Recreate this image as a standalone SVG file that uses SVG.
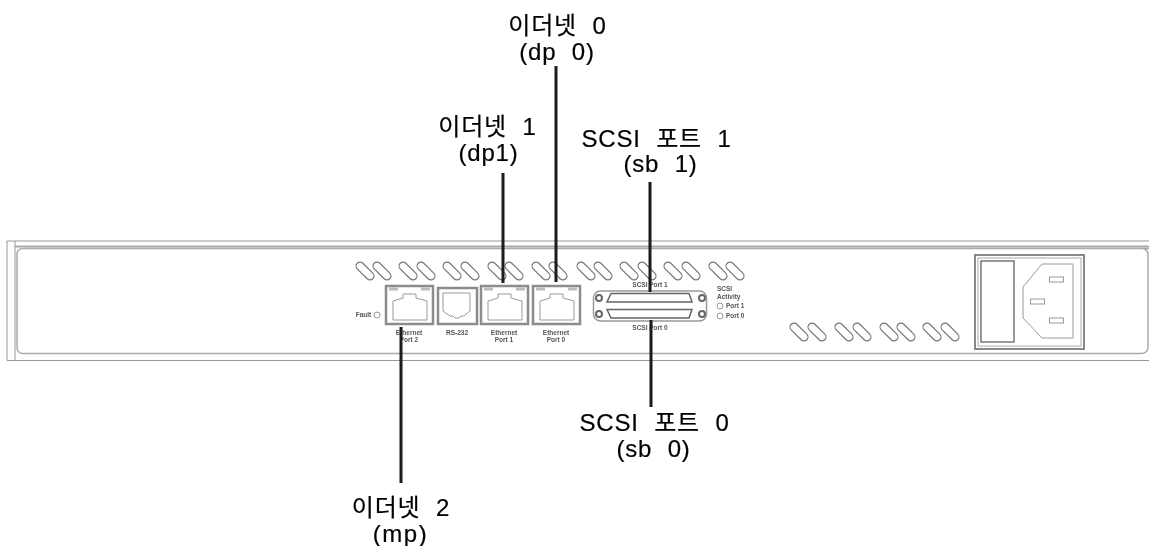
<svg xmlns="http://www.w3.org/2000/svg" width="1149" height="546" viewBox="0 0 1149 546">
<style>
.l{font-family:"Liberation Sans","Noto Sans CJK KR",sans-serif;font-size:24px;fill:#000;text-anchor:middle;word-spacing:8px;letter-spacing:.8px;stroke:#000;stroke-width:.2px}
.s{font-family:"Liberation Sans",sans-serif;font-size:6.500px;font-weight:bold;fill:#555;text-anchor:middle}
.sl{text-anchor:start}
.f{fill:none;stroke:#999;stroke-width:1}
.h{fill:none;stroke:#aaa;stroke-width:2}
.p{fill:none;stroke:#8c8c8c;stroke-width:2.500}
.c{stroke:#1c1c1c;stroke-width:3;fill:none}
.sc{fill:none;stroke:#777;stroke-width:1.200}
</style>
<defs>
<filter id="b" x="-5%" y="-5%" width="110%" height="110%"><feGaussianBlur stdDeviation="0.45"/></filter>
<filter id="t" x="-5%" y="-5%" width="110%" height="110%"><feGaussianBlur stdDeviation="0.3"/></filter>
<rect id="slot" class="sc" x="-11" y="-4" width="22" height="8" rx="4" transform="rotate(45)"/>
<g id="rj">
<rect class="p" x="0" y="0" width="47" height="38"/>
<path d="M3 1.500H12V4.500H3ZM35 1.500H44V4.500H35Z" fill="#bbb"/>
<path class="f" d="M7 34V15L17 12V8H30V12L41 15V34Z"/>
</g>
</defs>
<rect width="1149" height="546" fill="#fff"/>
<g id="chassis" filter="url(#b)">
<path class="f" d="M1149 241H7V360.500H1149" stroke="#aaa"/>
<line class="f" x1="15" y1="241" x2="15" y2="360"/>
<path class="h" d="M15 246.500H1149"/>
<path d="M1149 248.500H23Q17 248.500 17 254.500V347Q17 353.500 23 353.500H1141Q1148 353.500 1148 347V255Q1148 248.500 1141 248.500" fill="none" stroke="#aaa" stroke-width="1.500"/>
</g>
<g id="vents" filter="url(#b)">
<use href="#slot" x="365" y="271"/><use href="#slot" x="382" y="271"/><use href="#slot" x="408" y="271"/><use href="#slot" x="426" y="271"/><use href="#slot" x="452" y="271"/><use href="#slot" x="470" y="271"/><use href="#slot" x="497" y="271"/><use href="#slot" x="514" y="271"/><use href="#slot" x="541" y="271"/><use href="#slot" x="558" y="271"/><use href="#slot" x="586" y="271"/><use href="#slot" x="603" y="271"/><use href="#slot" x="629" y="271"/><use href="#slot" x="647" y="271"/><use href="#slot" x="673" y="271"/><use href="#slot" x="691" y="271"/><use href="#slot" x="718" y="271"/><use href="#slot" x="735" y="271"/>
<use href="#slot" x="799" y="332"/><use href="#slot" x="817" y="332"/><use href="#slot" x="844" y="332"/><use href="#slot" x="862" y="332"/><use href="#slot" x="889" y="332"/><use href="#slot" x="906" y="332"/><use href="#slot" x="932" y="332"/><use href="#slot" x="950" y="332"/>
</g>
<g id="fault" filter="url(#b)"><text class="s" x="363.500" y="317">Fault</text><circle class="f" cx="377" cy="315" r="3"/></g>
<g id="ethernet-port-2" filter="url(#b)"><use href="#rj" x="386" y="286"/><text class="s" x="409" y="334.500">Ethernet</text><text class="s" x="409" y="342">Port 2</text></g>
<g id="rs-232" filter="url(#b)">
<rect class="p" x="438" y="288" width="39" height="36"/>
<path class="f" d="M443 293H470V311L464 316H461L459 318H455L453 316H450L443 311Z"/>
<text class="s" x="457" y="334.500">RS-232</text></g>
<g id="ethernet-port-1" filter="url(#b)"><use href="#rj" x="481" y="286"/><text class="s" x="504" y="334.500">Ethernet</text><text class="s" x="504" y="342">Port 1</text></g>
<g id="ethernet-port-0" filter="url(#b)"><use href="#rj" x="533" y="286"/><text class="s" x="556" y="334.500">Ethernet</text><text class="s" x="556" y="342">Port 0</text></g>
<g id="scsi" filter="url(#b)">
<text class="s" x="650" y="287">SCSI Port 1</text>
<rect x="593.500" y="291" width="113" height="30" rx="7" fill="#fff" stroke="#999" stroke-width="1.500"/>
<path d="M611 293.500H689L692 302H607Z" fill="#fff" stroke="#666" stroke-width="1.500"/>
<path d="M607 309.500H692L689 318H611Z" fill="#fff" stroke="#666" stroke-width="1.500"/>
<circle cx="599" cy="298" r="3" fill="#fff" stroke="#666" stroke-width="2"/><circle cx="702" cy="298" r="3" fill="#fff" stroke="#666" stroke-width="2"/><circle cx="599" cy="314" r="3" fill="#fff" stroke="#666" stroke-width="2"/><circle cx="702" cy="314" r="3" fill="#fff" stroke="#666" stroke-width="2"/>
<text class="s" x="650" y="330">SCSI Port 0</text>
</g>
<g id="scsi-activity" filter="url(#b)">
<text class="s sl" x="717" y="291">SCSI</text><text class="s sl" x="717" y="299">Activity</text>
<circle class="f" cx="720" cy="306" r="3"/><text class="s sl" x="726" y="308">Port 1</text>
<circle class="f" cx="720" cy="316" r="3"/><text class="s sl" x="726" y="318">Port 0</text>
</g>
<g id="power" filter="url(#b)">
<rect x="975" y="255" width="109" height="94" fill="none" stroke="#888" stroke-width="2"/>
<rect x="978" y="258" width="103" height="88" fill="none" stroke="#aaa" stroke-width="1"/>
<rect x="981" y="261" width="33" height="81" fill="none" stroke="#777" stroke-width="1.500"/>
<path class="f" d="M1042 264H1073V338H1042L1023 318V287Z"/>
<rect class="f" x="1049.500" y="277" width="14" height="5"/><rect class="f" x="1030.500" y="299" width="14" height="5"/><rect class="f" x="1049.500" y="318" width="14" height="5"/>
</g>
<g id="connectors" filter="url(#t)">
<line class="c" x1="556" y1="66" x2="556" y2="282"/>
<line class="c" x1="503" y1="173" x2="503" y2="283"/>
<line class="c" x1="650" y1="182" x2="650" y2="292"/>
<line class="c" x1="651" y1="320" x2="651" y2="407"/>
<line class="c" x1="401" y1="327" x2="401" y2="483"/>
</g>
<g id="labels" filter="url(#t)">
<g id="label-eth0"><text class="l" x="557.500" y="34">이더넷 0</text><text class="l" x="557" y="60">(dp 0)</text></g>
<g id="label-eth1"><text class="l" x="487.500" y="135">이더넷 1</text><text class="l" x="488.500" y="161">(dp1)</text></g>
<g id="label-scsi1"><text class="l" x="656.500" y="146.500">SCSI 포트 1</text><text class="l" x="660.500" y="172">(sb 1)</text></g>
<g id="label-scsi0"><text class="l" x="654.500" y="431">SCSI 포트 0</text><text class="l" x="653.500" y="457">(sb 0)</text></g>
<g id="label-eth2"><text class="l" x="401" y="516">이더넷 2</text><text class="l" x="400.500" y="542" style="letter-spacing:1.500px">(mp)</text></g>
</g>
</svg>
